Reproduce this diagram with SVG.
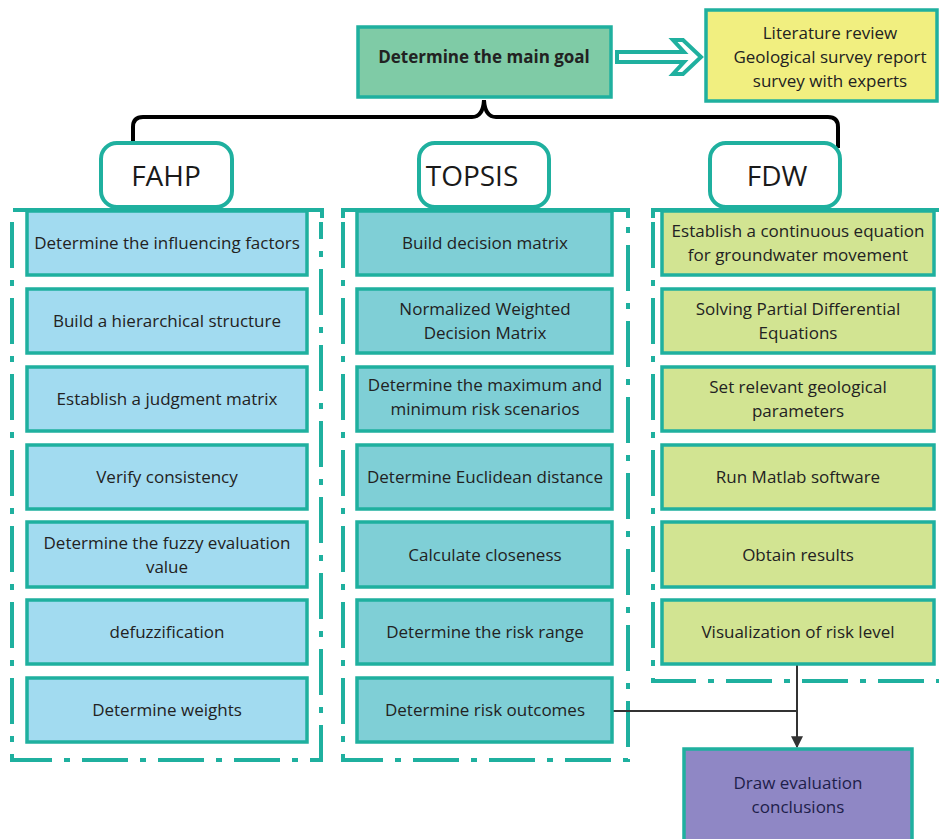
<svg xmlns="http://www.w3.org/2000/svg" width="939" height="839" viewBox="0 0 939 839">
<defs>
<style>
text{font-family:"Open Sans","Noto Sans","Liberation Sans",sans-serif;fill:#222;text-anchor:middle}
.t{font-size:17px}
.h{font-size:28px;fill:#1a1a1a}
.box{stroke:#1fb09f;stroke-width:3.5}
.a{fill:#a2dbf0}
.b{fill:#7fcfd6}
.c{fill:#d2e492}
.frame{fill:none;stroke:#1fb09f;stroke-width:4;stroke-dasharray:46 12 6 12}
.solid{fill:none;stroke:#1fb09f;stroke-width:4}
.hdr{fill:#fff;stroke:#1fb09f;stroke-width:4}
</style>
<marker id="arr" viewBox="0 0 10 10" refX="9" refY="5" markerWidth="6" markerHeight="6" orient="auto" markerUnits="strokeWidth">
<path d="M0,0 L10,5 L0,10 z" fill="#333"/>
</marker>
</defs>
<rect width="939" height="839" fill="#fff"/>

<g id="frames">
<path class="solid" d="M13,210 H322 V218"/>
<path class="frame" d="M12,222 V760 H321 V222"/>
<path class="solid" d="M343,218 V210 H628 V218"/>
<path class="frame" d="M343,222 V760 H628 V222"/>
<path class="solid" d="M653,218 V210 H939"/>
<path class="frame" d="M653,222 V681 H939"/>
</g>

<g id="goal">
<rect x="358" y="27" width="253" height="70" fill="#7fcba6" class="box"/>
<text x="484" y="63" class="t" style="font-weight:bold">Determine the main goal</text>
</g>
<g id="literature">
<rect x="706" y="10" width="231" height="91" fill="#f1ef80" class="box"/>
<text x="830" y="39" class="t">Literature review</text>
<text x="830" y="63" class="t">Geological survey report</text>
<text x="830" y="87" class="t">survey with experts</text>
</g>

<g id="connectors">
<path d="M617,52 H684 L673,40 H683 L701,57 L683,74 H673 L684,62 H617 Z" fill="#fff" stroke="#1fb09f" stroke-width="4" stroke-linejoin="miter"/>
<path d="M133,143 V127 Q133,117 143,117 H472 Q483,117 484,100 Q485,117 496,117 H828 Q838,117 838,127 V148" fill="none" stroke="#000" stroke-width="4"/>
<path d="M612,711 H797" fill="none" stroke="#333" stroke-width="2"/>
<path d="M797,665 V747" fill="none" stroke="#333" stroke-width="2" marker-end="url(#arr)"/>
</g>

<g id="fahp"><rect x="101" y="143" width="131" height="64" rx="16" class="hdr"/><text x="166" y="186" class="h">FAHP</text></g>
<g id="topsis"><rect x="419" y="143" width="130" height="64" rx="16" class="hdr"/><text x="472" y="186" class="h">TOPSIS</text></g>
<g id="fdw"><rect x="710" y="143" width="130" height="64" rx="16" class="hdr"/><text x="777" y="186" class="h">FDW</text></g>

<g id="a1"><rect x="27" y="211" width="280" height="64" class="box a"/><text x="167" y="249" class="t">Determine the influencing factors</text></g>
<g id="a2"><rect x="27" y="289" width="280" height="64" class="box a"/><text x="167" y="327" class="t">Build a hierarchical structure</text></g>
<g id="a3"><rect x="27" y="367" width="280" height="64" class="box a"/><text x="167" y="405" class="t">Establish a judgment matrix</text></g>
<g id="a4"><rect x="27" y="445" width="280" height="64" class="box a"/><text x="167" y="483" class="t">Verify consistency</text></g>
<g id="a5"><rect x="27" y="522" width="280" height="65" class="box a"/><text x="167" y="549" class="t">Determine the fuzzy evaluation</text><text x="167" y="573" class="t">value</text></g>
<g id="a6"><rect x="27" y="600" width="280" height="64" class="box a"/><text x="167" y="638" class="t">defuzzification</text></g>
<g id="a7"><rect x="27" y="678" width="280" height="64" class="box a"/><text x="167" y="716" class="t">Determine weights</text></g>

<g id="b1"><rect x="357" y="211" width="255" height="64" class="box b"/><text x="485" y="249" class="t">Build decision matrix</text></g>
<g id="b2"><rect x="357" y="289" width="255" height="64" class="box b"/><text x="485" y="315" class="t">Normalized Weighted</text><text x="485" y="339" class="t">Decision Matrix</text></g>
<g id="b3"><rect x="357" y="367" width="255" height="64" class="box b"/><text x="485" y="391" class="t">Determine the maximum and</text><text x="485" y="415" class="t">minimum risk scenarios</text></g>
<g id="b4"><rect x="357" y="445" width="255" height="64" class="box b"/><text x="485" y="483" class="t">Determine Euclidean distance</text></g>
<g id="b5"><rect x="357" y="522" width="255" height="65" class="box b"/><text x="485" y="561" class="t">Calculate closeness</text></g>
<g id="b6"><rect x="357" y="600" width="255" height="64" class="box b"/><text x="485" y="638" class="t">Determine the risk range</text></g>
<g id="b7"><rect x="357" y="678" width="255" height="64" class="box b"/><text x="485" y="716" class="t">Determine risk outcomes</text></g>

<g id="c1"><rect x="662" y="211" width="272" height="64" class="box c"/><text x="798" y="237" class="t">Establish a continuous equation</text><text x="798" y="261" class="t">for groundwater movement</text></g>
<g id="c2"><rect x="662" y="289" width="272" height="64" class="box c"/><text x="798" y="315" class="t">Solving Partial Differential</text><text x="798" y="339" class="t">Equations</text></g>
<g id="c3"><rect x="662" y="367" width="272" height="64" class="box c"/><text x="798" y="393" class="t">Set relevant geological</text><text x="798" y="417" class="t">parameters</text></g>
<g id="c4"><rect x="662" y="445" width="272" height="64" class="box c"/><text x="798" y="483" class="t">Run Matlab software</text></g>
<g id="c5"><rect x="662" y="522" width="272" height="65" class="box c"/><text x="798" y="561" class="t">Obtain results</text></g>
<g id="c6"><rect x="662" y="600" width="272" height="64" class="box c"/><text x="798" y="638" class="t">Visualization of risk level</text></g>

<g id="conclusion"><rect x="684" y="749" width="228" height="100" fill="#8f87c5" class="box"/><text x="798" y="789" class="t" style="fill:#1e1e4a">Draw evaluation</text><text x="798" y="813" class="t" style="fill:#1e1e4a">conclusions</text></g>
</svg>
